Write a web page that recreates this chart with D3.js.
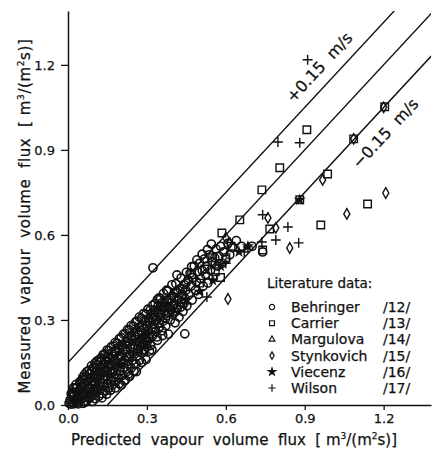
<!DOCTYPE html>
<html>
<head>
<meta charset="utf-8">
<script src="https://cdn.jsdelivr.net/npm/d3@7"></script>
<style>
  body { margin: 0; background: #fff; }
  svg { display: block; }
  text { font-family: "DejaVu Sans", sans-serif; fill: #111; }
</style>
</head>
<body>
<div id="chart"></div>
<script>
// Values
const xTicks = [0.0, 0.3, 0.6, 0.9, 1.2];
const yTicks = [0.0, 0.3, 0.6, 0.9, 1.2];
const bandOffsets = [0.15, 0, -0.15];

const behringer = [
  // 0 - 0.1
  [0.004,0.006],[0.008,0.018],[0.011,0.003],[0.015,0.028],[0.017,0.011],[0.022,0.004],[0.024,0.035],[0.027,0.019],
  [0.031,0.009],[0.033,0.045],[0.036,0.027],[0.041,0.012],[0.043,0.052],[0.046,0.034],[0.05,0.018],[0.052,0.064],
  [0.055,0.041],[0.058,0.006],[0.062,0.027],[0.064,0.072],[0.067,0.052],[0.071,0.015],[0.073,0.038],[0.076,0.083],
  [0.079,0.061],[0.082,0.024],[0.084,0.046],[0.087,0.094],[0.09,0.07],[0.093,0.012],[0.095,0.034],[0.097,0.053],
  [0.099,0.105],
  [0.012,0.04],[0.02,0.045],[0.026,0.058],[0.034,0.062],[0.039,0.004],[0.047,0.075],[0.053,0.088],[0.061,0.09],
  [0.066,0.01],[0.069,0.1],[0.074,0.058],[0.081,0.11],[0.086,0.03],[0.091,0.12],[0.094,0.085],
  [0.02,0.06],[0.03,0.072],[0.045,0.082],[0.056,0.098],[0.063,0.108],[0.072,0.118],[0.08,0.122],[0.089,0.138],
  [0.096,0.132],
  // 0.1 - 0.2
  [0.102,0.082],[0.104,0.022],[0.107,0.045],[0.109,0.118],[0.112,0.064],[0.114,0.094],[0.117,0.031],[0.12,0.128],
  [0.122,0.052],[0.125,0.078],[0.127,0.108],[0.13,0.04],[0.132,0.14],[0.135,0.066],[0.137,0.09],[0.14,0.118],
  [0.143,0.05],[0.145,0.152],[0.148,0.075],[0.15,0.1],[0.153,0.13],[0.156,0.06],[0.158,0.162],[0.161,0.088],
  [0.163,0.112],[0.166,0.14],[0.168,0.07],[0.171,0.172],[0.173,0.098],[0.176,0.125],[0.178,0.152],[0.181,0.082],
  [0.183,0.185],[0.186,0.108],[0.188,0.135],[0.191,0.162],[0.193,0.095],[0.196,0.195],[0.198,0.12],[0.2,0.148],
  [0.101,0.13],[0.106,0.1],[0.111,0.142],[0.116,0.072],[0.119,0.112],[0.124,0.152],[0.129,0.025],[0.133,0.118],
  [0.139,0.16],[0.142,0.1],[0.147,0.038],[0.151,0.17],[0.157,0.142],[0.162,0.052],[0.167,0.182],[0.17,0.118],
  [0.177,0.19],[0.18,0.06],[0.184,0.145],[0.19,0.2],[0.194,0.075],[0.199,0.172],
  [0.103,0.148],[0.11,0.155],[0.118,0.16],[0.126,0.166],[0.134,0.178],[0.141,0.18],[0.149,0.194],[0.155,0.192],
  [0.164,0.205],[0.172,0.208],[0.179,0.22],[0.187,0.218],[0.195,0.234],
  // 0.2 - 0.3
  [0.203,0.07],[0.205,0.175],[0.208,0.105],[0.21,0.205],[0.213,0.132],[0.216,0.158],[0.218,0.088],[0.221,0.188],
  [0.224,0.118],[0.226,0.215],[0.229,0.145],[0.232,0.172],[0.234,0.1],[0.237,0.2],[0.24,0.13],[0.243,0.228],
  [0.245,0.158],[0.248,0.185],[0.251,0.118],[0.254,0.212],[0.256,0.24],[0.259,0.145],[0.262,0.172],[0.265,0.198],
  [0.267,0.25],[0.27,0.225],[0.273,0.158],[0.275,0.21],[0.278,0.262],[0.281,0.185],[0.284,0.238],[0.286,0.212],
  [0.289,0.27],[0.292,0.195],[0.295,0.248],[0.298,0.225],[0.3,0.28],[0.3,0.205],[0.273,0.219],
  [0.204,0.21],[0.209,0.148],[0.214,0.085],[0.219,0.222],[0.223,0.168],[0.228,0.235],[0.231,0.11],[0.236,0.18],
  [0.241,0.245],[0.246,0.205],[0.25,0.145],[0.255,0.258],[0.26,0.118],[0.264,0.222],[0.268,0.19],[0.272,0.275],
  [0.277,0.232],[0.28,0.15],[0.283,0.282],[0.288,0.195],[0.291,0.232],[0.294,0.295],[0.297,0.16],
  [0.202,0.238],[0.211,0.25],[0.218,0.252],[0.226,0.266],[0.233,0.265],[0.24,0.28],[0.248,0.278],[0.257,0.293],
  [0.263,0.296],[0.271,0.31],[0.279,0.306],[0.287,0.322],[0.296,0.32],
  // 0.3 - 0.45
  [0.305,0.262],[0.308,0.235],[0.311,0.29],[0.314,0.21],[0.317,0.272],[0.32,0.305],[0.323,0.245],[0.327,0.285],
  [0.33,0.318],[0.334,0.26],[0.337,0.3],[0.34,0.228],[0.344,0.33],[0.347,0.275],[0.351,0.31],[0.354,0.345],
  [0.358,0.262],[0.361,0.295],[0.365,0.33],[0.368,0.36],[0.372,0.28],[0.375,0.315],[0.379,0.348],[0.382,0.25],
  [0.386,0.37],[0.389,0.3],[0.393,0.335],[0.396,0.385],[0.4,0.32],[0.404,0.355],[0.407,0.29],[0.411,0.395],
  [0.415,0.34],[0.418,0.372],[0.422,0.31],[0.426,0.41],[0.43,0.36],[0.434,0.39],[0.437,0.33],[0.441,0.425],
  [0.445,0.375],[0.448,0.405],
  [0.302,0.225],[0.307,0.305],[0.312,0.252],[0.316,0.322],[0.319,0.195],[0.324,0.27],[0.329,0.335],[0.332,0.3],
  [0.338,0.24],[0.343,0.35],[0.348,0.29],[0.353,0.325],[0.357,0.36],[0.36,0.245],[0.366,0.345],[0.371,0.305],
  [0.377,0.37],[0.381,0.325],[0.388,0.345],[0.392,0.36],[0.399,0.35],[0.403,0.38],[0.409,0.33],[0.413,0.4],
  [0.421,0.38],[0.428,0.345],[0.436,0.41],[0.442,0.36],[0.449,0.43],
  [0.304,0.338],[0.313,0.336],[0.322,0.352],[0.331,0.358],[0.34,0.372],[0.352,0.376],[0.363,0.394],[0.38,0.402],
  [0.395,0.424],[0.41,0.428],[0.43,0.448],
  [0.323,0.484],[0.444,0.251],[0.414,0.459],[0.346,0.378],[0.375,0.405],[0.29,0.19],[0.31,0.19],
  // 0.45 - 0.75
  [0.452,0.35],[0.456,0.44],[0.46,0.39],[0.464,0.465],[0.468,0.42],[0.472,0.37],[0.476,0.45],[0.48,0.49],
  [0.484,0.405],[0.488,0.435],[0.492,0.47],[0.496,0.39],[0.5,0.5],[0.505,0.445],[0.51,0.475],[0.514,0.42],
  [0.518,0.515],[0.523,0.46],[0.528,0.49],[0.532,0.43],[0.537,0.53],[0.542,0.475],[0.547,0.505],[0.552,0.45],
  [0.558,0.519],[0.563,0.55],[0.568,0.49],[0.574,0.525],[0.58,0.56],[0.586,0.5],[0.592,0.54],[0.6,0.515],
  [0.608,0.57],[0.615,0.53],[0.625,0.555],[0.64,0.58],[0.66,0.56],[0.7,0.56],[0.74,0.54],
  [0.45,0.468],[0.47,0.488],[0.49,0.512],[0.51,0.532],[0.53,0.548],[0.545,0.568]
];
const carrier = [
  [0.585,0.607],[0.653,0.653],[0.737,0.759],[0.805,0.837],[0.908,0.971],[1.204,1.052],[1.086,0.939],
  [0.987,0.815],[0.881,0.724],[1.139,0.709],[0.961,0.635],[0.767,0.621],[0.74,0.547],
  [0.52,0.48],[0.56,0.47],[0.6,0.52],[0.5,0.43],[0.47,0.46],[0.58,0.45],[0.62,0.56],[0.55,0.52],
  [0.296,0.24],[0.25,0.2],[0.15,0.12],[0.1,0.08]
];
const margulova = [[0.03,0.02],[0.06,0.05],[0.1,0.08],[0.15,0.13],[0.2,0.17]];
const stynkovich = [
  [1.208,0.748],[1.06,0.674],[0.968,0.794],[1.2,1.05],[1.086,0.939],[0.843,0.554],[0.76,0.66],
  [0.79,0.625],[0.615,0.572],[0.608,0.374],[0.555,0.5],[0.6,0.59]
];
const viecenz = [
  [0.881,0.724],[0.684,0.56],[0.65,0.54],[0.55,0.44],[0.5,0.4],[0.45,0.37],[0.58,0.49],[0.3,0.25],[0.2,0.14]
];
const wilson = [
  [0.911,1.218],[0.798,0.928],[0.881,0.925],[0.74,0.671],[0.836,0.628],[0.79,0.582],[0.877,0.572],
  [0.737,0.575],[0.684,0.558],[0.528,0.381],[0.67,0.54],[0.6,0.5],[0.29,0.24],[0.1,0.06],[0.15,0.1],
  [0.05,0.03],[0.2,0.15],[0.25,0.18],[0.4,0.33],[0.45,0.36]
];

const legendNames = ["Behringer", "Carrier", "Margulova", "Stynkovich", "Viecenz", "Wilson"];
const legendRefs = ["/12/", "/13/", "/14/", "/15/", "/16/", "/17/"];

const width = 433, height = 451;
const margin = {top: 11, right: 2, bottom: 46, left: 68};

const svg = d3.select('#chart').append('svg')
  .attr('width', width)
  .attr('height', height);

const x = d3.scaleLinear().domain([0, 1.38]).range([margin.left, width - margin.right]);
const y = d3.scaleLinear().domain([0, 1.39]).range([height - margin.bottom, margin.top]);

// symbol shapes, stroked black like the plotter drawing
const series = [
  {data: behringer, type: d3.symbolCircle, size: 52, legendSize: 22, fill: 'none', sw: 1.6},
  {data: carrier, type: d3.symbolSquare2, size: 72, legendSize: 30, fill: 'none', sw: 1.4},
  {data: margulova, type: d3.symbolTriangle2, size: 44, legendSize: 24, fill: 'none', sw: 1.4},
  {data: stynkovich, type: d3.symbolDiamond, size: 32, legendSize: 16, fill: 'none', sw: 1.4},
  {data: viecenz, type: d3.symbolStar, size: 22, legendSize: 16, fill: '#111', sw: 1.2},
  {data: wilson, type: d3.symbolPlus, size: 34, legendSize: 20, fill: 'none', sw: 1.4}
];

svg.append('clipPath').attr('id', 'plot')
  .append('rect')
  .attr('x', x(0)).attr('y', y(1.39))
  .attr('width', x(1.38) - x(0)).attr('height', y(0) - y(1.39));

// the three band lines
svg.append('g')
  .attr('clip-path', 'url(#plot)')
  .selectAll('line')
  .data(bandOffsets)
  .join('line')
  .attr('x1', d => x(Math.max(0, -d)))
  .attr('y1', d => y(Math.max(0, d)))
  .attr('x2', d => x(1.5))
  .attr('y2', d => y(1.5 + d))
  .attr('stroke', '#111')
  .attr('stroke-width', 1.4);

// axes
const yAxis = svg.append('g')
  .attr('transform', `translate(${x(0)},0)`)
  .call(d3.axisLeft(y).tickValues(yTicks).tickFormat(d3.format('.1f')).tickSize(7).tickSizeOuter(0).tickPadding(6));
const xAxis = svg.append('g')
  .attr('transform', `translate(0,${y(0)})`)
  .call(d3.axisBottom(x).tickValues(xTicks).tickFormat(d3.format('.1f')).tickSize(5).tickSizeOuter(0).tickPadding(4));

[yAxis, xAxis].forEach(a => {
  a.select('.domain').attr('stroke', '#111').attr('stroke-width', 1.5);
  a.selectAll('.tick line').attr('stroke', '#111').attr('stroke-width', 1.3);
  a.selectAll('.tick text').attr('font-size', 13).attr('font-family', '"DejaVu Sans", sans-serif')
    .attr('fill', '#111').attr('stroke', '#111').attr('stroke-width', 0.25);
});

// points
const symbolGen = d3.symbol();
series.forEach(s => {
  svg.append('g')
    .selectAll('path')
    .data(s.data)
    .join('path')
    .attr('transform', d => `translate(${x(d[0])},${y(d[1])})`)
    .attr('d', symbolGen.type(s.type).size(s.size)())
    .attr('fill', s.fill)
    .attr('stroke', '#111')
    .attr('stroke-width', s.sw);
});

// band labels
const angle = -Math.atan((y(0) - y(1)) / (x(1) - x(0))) * 180 / Math.PI;
svg.append('text')
  .attr('transform', `translate(320,68) rotate(${angle})`)
  .attr('text-anchor', 'middle')
  .attr('dominant-baseline', 'middle')
  .attr('font-size', 16)
  .attr('stroke', '#111').attr('stroke-width', 0.25)
  .style('white-space', 'pre')
  .text('+0.15  m/s');
svg.append('text')
  .attr('transform', `translate(386,134) rotate(${angle})`)
  .attr('text-anchor', 'middle')
  .attr('dominant-baseline', 'middle')
  .attr('font-size', 16)
  .attr('stroke', '#111').attr('stroke-width', 0.25)
  .style('white-space', 'pre')
  .text('\u22120.15  m/s');

// legend
const legend = svg.append('g').attr('transform', 'translate(267,0)');
legend.append('text')
  .attr('x', 0).attr('y', 288)
  .attr('font-size', 13.5)
  .attr('stroke', '#111').attr('stroke-width', 0.25)
  .text('Literature data:');
const rows = legend.selectAll('g.row')
  .data(series)
  .join('g')
  .attr('class', 'row')
  .attr('transform', (d, i) => `translate(0,${307 + i * 16.2})`);
rows.append('path')
  .attr('transform', 'translate(5,0)')
  .attr('d', d => d3.symbol().type(d.type).size(d.legendSize)())
  .attr('fill', d => d.fill)
  .attr('stroke', '#111')
  .attr('stroke-width', 1.2);
rows.append('text')
  .attr('x', 24).attr('y', 5)
  .attr('font-size', 14)
  .attr('stroke', '#111').attr('stroke-width', 0.25)
  .text((d, i) => legendNames[i]);
rows.append('text')
  .attr('x', 116).attr('y', 5)
  .attr('font-size', 14)
  .attr('stroke', '#111').attr('stroke-width', 0.25)
  .text((d, i) => legendRefs[i]);

// axis titles
const xTitle = svg.append('text')
  .attr('x', 234).attr('y', 445)
  .attr('text-anchor', 'middle')
  .attr('font-size', 15)
  .attr('stroke', '#111').attr('stroke-width', 0.25)
  .style('white-space', 'pre');
xTitle.append('tspan').text('Predicted  vapour  volume  flux  [ m');
xTitle.append('tspan').attr('dy', -6).attr('font-size', 9).text('3');
xTitle.append('tspan').attr('dy', 6).text('/(m');
xTitle.append('tspan').attr('dy', -6).attr('font-size', 9).text('2');
xTitle.append('tspan').attr('dy', 6).text('s)]');

const yTitle = svg.append('text')
  .attr('transform', 'translate(30,216) rotate(-90)')
  .attr('text-anchor', 'middle')
  .attr('font-size', 15)
  .attr('letter-spacing', 0.6)
  .attr('stroke', '#111').attr('stroke-width', 0.25)
  .style('white-space', 'pre');
yTitle.append('tspan').text('Measured  vapour  volume  flux  [ m');
yTitle.append('tspan').attr('dy', -6).attr('font-size', 9).text('3');
yTitle.append('tspan').attr('dy', 6).text('/(m');
yTitle.append('tspan').attr('dy', -6).attr('font-size', 9).text('2');
yTitle.append('tspan').attr('dy', 6).text('s)]');
</script>
</body>
</html>
